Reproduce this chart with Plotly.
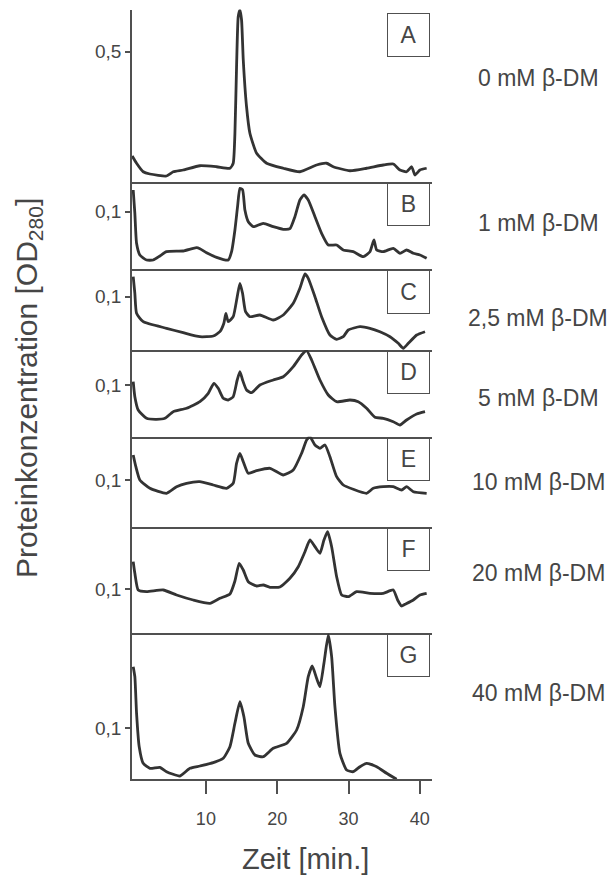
import plotly.graph_objects as go

W, H = 613, 879

# Elution time (min) and protein concentration (OD280) for each beta-DM concentration
t_a = [-0.33, 0.28, 1.21, 2.15, 4.48, 5.42, 6.82, 9.16, 11.5, 13.37, 13.83, 14.07, 14.3, 14.53, 14.77,
       15.0, 15.24, 15.7, 16.17, 17.11, 18.51, 20.85, 23.18, 25.52, 26.92, 27.86, 30.2, 32.53, 34.87,
       36.27, 37.21, 38.14, 38.85, 39.31, 40.01, 40.95]
od_a = [0.082, 0.053, 0.019, 0.010, 0.002, 0.019, 0.026, 0.043, 0.039, 0.033, 0.053, 0.173, 0.439, 0.639,
        0.666, 0.626, 0.466, 0.279, 0.173, 0.093, 0.053, 0.033, 0.019, 0.046, 0.053, 0.039, 0.023, 0.033,
        0.046, 0.050, 0.026, 0.019, 0.039, 0.006, 0.026, 0.033]

t_b = [-0.19, 0.04, 0.28, 0.74, 1.68, 2.61, 3.55, 4.48, 6.82, 8.69, 9.16, 10.09, 11.5, 13.13, 13.6, 14.07,
       14.44, 14.77, 15.14, 15.47, 15.94, 16.64, 18.04, 19.44, 20.85, 21.78, 22.48, 23.18, 23.74, 24.35,
       25.29, 26.22, 27.16, 28.33, 29.26, 30.66, 32.07, 33.0, 33.56, 33.94, 34.87, 36.27, 37.21, 38.14,
       39.08, 40.01, 40.95]
od_b = [0.1217, 0.0984, 0.0684, 0.0567, 0.0517, 0.0517, 0.0557, 0.060, 0.0607, 0.064, 0.063, 0.059, 0.0544,
        0.0517, 0.060, 0.0817, 0.105, 0.1234, 0.122, 0.1017, 0.090, 0.085, 0.0884, 0.085, 0.0824, 0.083,
        0.095, 0.1117, 0.1167, 0.1117, 0.095, 0.0784, 0.0667, 0.0667, 0.0617, 0.060, 0.055, 0.060, 0.0717,
        0.0617, 0.060, 0.0634, 0.0584, 0.0617, 0.0584, 0.0567, 0.0534]

t_c = [-0.19, 0.04, 0.28, 1.21, 4.48, 6.82, 9.16, 11.03, 11.96, 12.52, 12.8, 13.13, 13.83, 14.39, 14.77,
       15.14, 15.56, 16.17, 17.57, 19.44, 20.85, 22.25, 23.18, 23.89, 24.35, 25.29, 26.22, 27.39, 28.33,
       29.26, 29.96, 31.6, 33.0, 34.4, 35.81, 36.97, 37.68, 38.38, 39.55, 40.72]
od_c = [0.120, 0.1034, 0.0834, 0.075, 0.0684, 0.064, 0.060, 0.0607, 0.065, 0.0734, 0.0834, 0.075, 0.080,
        0.100, 0.1134, 0.1034, 0.085, 0.080, 0.0817, 0.0767, 0.0817, 0.0934, 0.1084, 0.1227, 0.1184, 0.100,
        0.080, 0.0617, 0.0574, 0.060, 0.0667, 0.070, 0.0684, 0.065, 0.060, 0.0534, 0.0484, 0.0534, 0.0617,
        0.065]

t_d = [-0.19, 0.04, 0.51, 1.68, 3.08, 4.25, 5.42, 7.29, 9.16, 10.33, 11.12, 11.73, 12.43, 13.13, 13.83,
       14.39, 14.77, 15.14, 15.7, 16.41, 17.57, 19.44, 20.85, 22.25, 23.42, 24.12, 24.82, 25.99, 27.16,
       28.33, 30.2, 31.36, 32.53, 33.7, 34.87, 36.27, 37.21, 38.14, 39.55, 40.72]
od_d = [0.1033, 0.0883, 0.075, 0.0667, 0.0657, 0.0667, 0.0733, 0.0767, 0.0833, 0.0917, 0.1017, 0.0967,
        0.0867, 0.085, 0.0883, 0.105, 0.1133, 0.105, 0.095, 0.0923, 0.100, 0.105, 0.1083, 0.1183, 0.130,
        0.1343, 0.125, 0.105, 0.090, 0.0833, 0.085, 0.0833, 0.0767, 0.0677, 0.0667, 0.0633, 0.060, 0.065,
        0.071, 0.0733]

t_e = [-0.19, 0.18, 0.74, 2.15, 4.48, 5.89, 7.29, 9.16, 11.03, 12.9, 13.83, 14.3, 14.77, 15.24, 15.94,
       17.11, 18.98, 20.85, 22.25, 23.42, 24.12, 24.59, 25.29, 25.99, 26.69, 27.39, 28.33, 29.26, 30.66,
       32.53, 33.47, 34.87, 36.27, 37.44, 38.14, 39.08, 40.95]
od_e = [0.125, 0.1133, 0.100, 0.0917, 0.0867, 0.0933, 0.0967, 0.0983, 0.095, 0.0917, 0.0967, 0.1167,
        0.1267, 0.1183, 0.1067, 0.1093, 0.1117, 0.105, 0.110, 0.1267, 0.140, 0.1433, 0.135, 0.1317, 0.135,
        0.1233, 0.1033, 0.095, 0.0907, 0.0867, 0.0917, 0.0933, 0.0933, 0.090, 0.0933, 0.0883, 0.0867]

t_f = [-0.19, 0.04, 0.51, 1.68, 4.02, 5.89, 8.22, 10.56, 11.96, 13.37, 14.07, 14.67, 15.24, 15.94, 17.11,
       18.04, 18.98, 20.38, 21.78, 22.95, 23.89, 24.59, 25.29, 25.99, 26.55, 27.06, 27.63, 28.33, 29.03,
       29.96, 31.13, 33.0, 34.87, 36.27, 36.88, 37.44, 37.91, 39.08, 40.01, 40.95]
od_f = [0.1273, 0.1157, 0.099, 0.0973, 0.099, 0.094, 0.089, 0.0857, 0.0907, 0.095, 0.108, 0.1257, 0.119,
        0.1073, 0.103, 0.104, 0.1017, 0.102, 0.1107, 0.1223, 0.1373, 0.149, 0.1423, 0.1357, 0.149, 0.1573,
        0.1423, 0.1123, 0.094, 0.0923, 0.0973, 0.0957, 0.0957, 0.099, 0.089, 0.083, 0.0847, 0.089, 0.094,
        0.0957]

t_g = [-0.19, 0.04, 0.28, 0.65, 1.21, 2.15, 3.55, 4.48, 6.35, 7.76, 9.16, 11.03, 12.43, 13.37, 14.07,
       14.77, 15.33, 15.94, 16.87, 18.04, 19.44, 21.31, 22.72, 23.65, 24.35, 24.91, 25.52, 25.99, 26.55,
       27.16, 27.63, 28.09, 28.79, 29.73, 30.66, 31.6, 32.53, 33.94, 35.34, 36.74]
od_g = [0.1616, 0.1516, 0.115, 0.0816, 0.065, 0.060, 0.061, 0.0566, 0.0523, 0.060, 0.0623, 0.0656, 0.070,
        0.0816, 0.105, 0.1266, 0.1116, 0.085, 0.0733, 0.0716, 0.080, 0.085, 0.0983, 0.1216, 0.1516, 0.1623,
        0.150, 0.1416, 0.165, 0.1933, 0.1716, 0.1216, 0.075, 0.0583, 0.0566, 0.0616, 0.065, 0.0616, 0.055,
        0.049]

panel_letters = ["A", "B", "C", "D", "E", "F", "G"]
conditions = ["0 mM β-DM", "1 mM β-DM", "2,5 mM β-DM", "5 mM β-DM",
              "10 mM β-DM", "20 mM β-DM", "40 mM β-DM"]
tick_vals = [0.5, 0.1, 0.1, 0.1, 0.1, 0.1, 0.1]
tick_text = ["0,5", "0,1", "0,1", "0,1", "0,1", "0,1", "0,1"]
x_ticks = [10, 20, 30, 40]
x_title = "Zeit [min.]"
y_title = "Proteinkonzentration [OD<sub>280</sub>]"

series = [(t_a, od_a), (t_b, od_b), (t_c, od_c), (t_d, od_d), (t_e, od_e), (t_f, od_f), (t_g, od_g)]

# ---- layout geometry (pixels) ----
X_LEFT, X_RIGHT = 132, 432
panel_px = [(9.5, 181.7), (181.7, 269.3), (269.3, 350), (350, 436.7),
            (436.7, 527.3), (527.3, 633.3), (633.3, 779.3)]
y_ranges = [(-0.0208, 0.668), (0.0424, 0.130), (0.0467, 0.1274), (0.0483, 0.135),
            (0.0527, 0.1433), (0.0557, 0.1617), (0.049, 0.195)]
box_tops = [13, 182, 270, 350, 437, 527, 633]
label_y = [78, 223, 318, 398, 482, 573, 693]
X_RANGE = [-0.36, 41.7]

TRACE = "#333333"
AXIS = "#505050"
TEXT = "#464646"
FONT = "Arial, Liberation Sans, sans-serif"


def px_x(p):
    return p / W


def px_y(p):
    return 1 - p / H


fig = go.Figure()
layout = dict(
    width=W, height=H,
    margin=dict(l=0, r=0, t=0, b=0),
    paper_bgcolor="white", plot_bgcolor="rgba(0,0,0,0)",
    showlegend=False,
    font=dict(family=FONT, color=TEXT),
)

annotations = []
n = len(series)
for i, ((t, od), (top, bot), yr) in enumerate(zip(series, panel_px, y_ranges)):
    k = "" if i == 0 else str(i + 1)
    fig.add_trace(go.Scatter(
        x=t, y=od, mode="lines",
        line=dict(color=TRACE, width=2.8, shape="spline", smoothing=0.5),
        xaxis="x" + k, yaxis="y" + k, hoverinfo="skip",
    ))
    last = i == n - 1
    layout["xaxis" + k] = dict(
        domain=[px_x(X_LEFT), px_x(X_RIGHT)], range=X_RANGE, anchor="y" + k,
        showline=True, linecolor=AXIS, linewidth=1.6,
        showgrid=False, zeroline=False,
        ticks="outside" if last else "", ticklen=13, tickwidth=1.6, tickcolor=AXIS,
        tickvals=x_ticks if last else [], showticklabels=last,
        tickfont=dict(size=18, color=TEXT, family=FONT), ticklabelstandoff=9,
    )
    layout["yaxis" + k] = dict(
        domain=[px_y(bot), px_y(top)], range=list(yr), anchor="x" + k,
        showline=True, linecolor=AXIS, linewidth=1.6,
        showgrid=False, zeroline=False,
        ticks="outside", ticklen=5, tickwidth=1.6, tickcolor=AXIS,
        tickvals=[tick_vals[i]], ticktext=[tick_text[i]],
        tickfont=dict(size=19, color=TEXT, family=FONT),
    )
    # panel letter in a framed box at the top right
    annotations.append(dict(
        xref="paper", yref="paper", x=px_x(430), y=px_y(box_tops[i]),
        xanchor="right", yanchor="top", text=panel_letters[i], showarrow=False,
        width=41, height=42, borderpad=0, borderwidth=1, bordercolor=AXIS,
        font=dict(size=23, color=TEXT, family=FONT), align="center", valign="middle",
    ))
    # detergent concentration on the right
    annotations.append(dict(
        xref="paper", yref="paper", x=px_x(538), y=px_y(label_y[i]),
        xanchor="center", yanchor="middle", text=conditions[i], showarrow=False,
        font=dict(size=23, color=TEXT, family=FONT),
    ))

annotations.append(dict(
    xref="paper", yref="paper", x=px_x(305), y=px_y(859),
    xanchor="center", yanchor="middle", text=x_title, showarrow=False,
    font=dict(size=29, color=TEXT, family=FONT),
))
annotations.append(dict(
    xref="paper", yref="paper", x=px_x(28), y=px_y(388),
    xanchor="center", yanchor="middle", text=y_title, showarrow=False, textangle=-90,
    font=dict(size=30, color=TEXT, family=FONT),
))
layout["annotations"] = annotations

fig.update_layout(**layout)
fig.write_html("out.html")
